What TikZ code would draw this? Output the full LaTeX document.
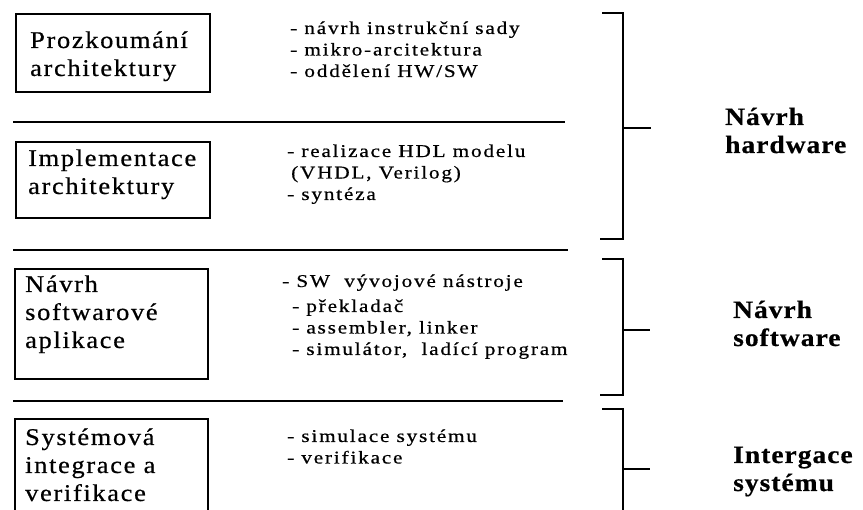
\documentclass[tikz,border=0pt]{standalone}
\usepackage{fontspec}
\setmainfont{Liberation Serif}
% slightly widened serif faces for the three kinds of text
\newfontfamily\boxfont[FakeStretch=1.10,LetterSpace=7,FakeBold=0.6]{Liberation Serif}
\newfontfamily\itemfont[FakeStretch=1.18,LetterSpace=10,FakeBold=0.6]{Liberation Serif}
\newfontfamily\phasefont[FakeStretch=1.10,LetterSpace=4,FakeBold=0.5]{Liberation Serif}

\tikzset{
  boxframe/.style={draw, line width=1.7pt, inner sep=0pt, anchor=north west},
  % multi-line nodes: the base anchor sits on the baseline of the last line
  boxtext/.style={font=\boxfont\fontsize{24}{28}\selectfont, align=left,
                  anchor=base west, inner sep=0pt},
  items/.style={font=\itemfont\fontsize{18}{21.5}\selectfont, align=left,
                anchor=base west, inner sep=0pt},
  phase/.style={font=\phasefont\bfseries\fontsize{25}{28}\selectfont, align=left,
                anchor=base west, inner sep=0pt},
  rule/.style={line width=1.7pt},
  brace/.style={line width=1.7pt},
}

\begin{document}
\begin{tikzpicture}[x=1pt,y=-1pt]
\useasboundingbox (0,0) rectangle (863,510);

% stage boxes
\node[boxframe, minimum width=194pt, minimum height=78pt]  (b1) at (15,13)  {};
\node[boxframe, minimum width=194pt, minimum height=76pt]  (b2) at (15,141) {};
\node[boxframe, minimum width=193pt, minimum height=110pt] (b3) at (14,268) {};
\node[boxframe, minimum width=193pt, minimum height=100pt] (b4) at (14,418) {};

\node[boxtext] (t1) at (30,76)  {Prozkoumání\\architektury};
\node[boxtext] (t2) at (28,194) {Implementace\\architektury};
\node[boxtext] (t3) at (25,348) {Návrh\\softwarové\\aplikace};
\node[boxtext] (t4) at (25,501) {Systémová\\integrace a\\verifikace};

% activity lists
\node[items] (i1) at (290,77) {- návrh instrukční sady\\- mikro-arcitektura\\- oddělení HW/SW};
\node[items] (i2) at (287,200) {- realizace HDL modelu\\\hspace*{4pt}(VHDL, Verilog)\\- syntéza};
\node[items] (i3) at (282,287) {- SW~ vývojové nástroje};
\node[items] (i3b) at (292,355) {- překladač\\- assembler, linker\\- simulátor,~ ladící program};
\node[items] (i4) at (287,463.5) {- simulace systému\\- verifikace};

% separators between stages
\draw[rule] (13,122) -- (565,122);
\draw[rule] (13,250) -- (568,250);
\draw[rule] (13,401) -- (563,401);

% brackets grouping the stages
\draw[brace] (602,13) -- (623,13) -- (623,239) -- (600,239);
\draw[brace] (623,128) -- (651,128);
\draw[brace] (602,259) -- (623,259) -- (623,395) -- (600,395);
\draw[brace] (623,330) -- (650,330);
\draw[brace] (602,409) -- (623,409) -- (623,520);
\draw[brace] (623,469) -- (650,469);

% phase names
\node[phase] (p1) at (725,153) {Návrh\\hardware};
\node[phase] (p2) at (733,346) {Návrh\\software};
\node[phase] (p3) at (733,491) {Intergace\\systému};
\end{tikzpicture}
\end{document}
